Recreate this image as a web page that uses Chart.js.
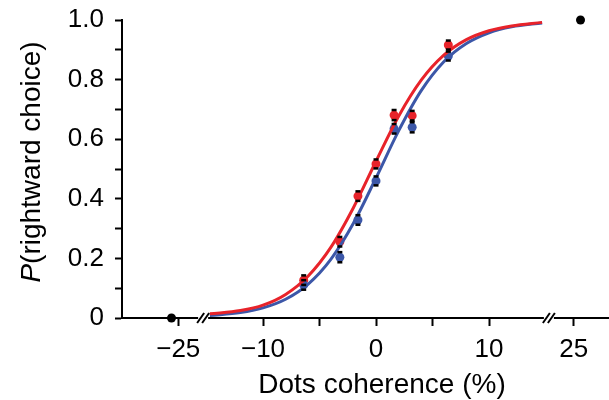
<!DOCTYPE html>
<html>
<head>
<meta charset="utf-8">
<script src="https://cdn.jsdelivr.net/npm/chart.js@4/dist/chart.umd.min.js"></script>
<style>
  html, body { margin: 0; padding: 0; background: #fff; overflow: hidden; }
  #wrap { width: 609px; height: 400px; }
</style>
</head>
<body>
<div id="wrap"><canvas id="psychometric"></canvas></div>
<script>
// 各コヒーレンスでの右選択率（赤・青の2条件）
const coherence = [-6.4, -3.2, -1.6, 0, 1.6, 3.2, 6.4];
const redChoice = [0.127, 0.256, 0.409, 0.517, 0.681, 0.679, 0.916];
const blueChoice = [0.111, 0.204, 0.329, 0.460, 0.635, 0.640, 0.879];
const redErr = [0.016, 0.016, 0.016, 0.015, 0.017, 0.016, 0.015];
const blueErr = [0.016, 0.017, 0.016, 0.015, 0.016, 0.017, 0.015];

// フィット曲線
const fitCoherence = [-14.7, -12, -10, -8, -6, -4, -2, 0, 2, 4, 6, 8, 10, 12, 14.7];
const redFit = [0.014, 0.025, 0.043, 0.079, 0.141, 0.237, 0.370, 0.526, 0.677, 0.798, 0.882, 0.934, 0.964, 0.980, 0.992];
const blueFit = [0.008, 0.018, 0.034, 0.063, 0.114, 0.197, 0.318, 0.470, 0.628, 0.763, 0.860, 0.921, 0.957, 0.977, 0.990];

// ±25% の極端な条件（黒点）
const extremeCoherence = [-25, 25];
const extremeChoice = [0, 1];

// x軸の目盛り（軸が途中で切れているので±25は内側に詰めて表示）
const xTickCoherence = [-25, -10, -5, 0, 5, 10, 25];
const xTickLabels = ['\u221225', '\u221210', '', '0', '', '10', '25'];
const yTickLabels = ['0', '', '0.2', '', '0.4', '', '0.6', '', '0.8', '', '1.0'];

const outerTickPos = 17.5;   // ±25 の目盛り位置
const outerDotPos = 18.1;    // ±25 の黒点の位置
const breakPos = 15.3;       // 軸の切れ目
const tickPos = c => Math.abs(c) > 15 ? Math.sign(c) * outerTickPos : c;
const dotPos = c => Math.abs(c) > 15 ? Math.sign(c) * outerDotPos : c;

const RED = '#e8232a';
const BLUE = '#3c57a8';
const FONT = '"Liberation Sans", Arial, Helvetica, sans-serif';

Chart.defaults.font.family = FONT;
Chart.defaults.color = '#000';

const toPoints = (xs, ys, f) => xs.map((x, i) => ({ x: f ? f(x) : x, y: ys[i] }));

// エラーバー（黒いキャップ）
const errorBars = {
    id: 'errorBars',
    afterDatasetsDraw(chart) {
        const { ctx, scales: { x, y } } = chart;
        ctx.save();
        ctx.strokeStyle = '#000';
        ctx.lineWidth = 2.5;
        chart.data.datasets.forEach(ds => {
            if (!ds.errors) return;
            ds.data.forEach((p, i) => {
                const px = x.getPixelForValue(p.x);
                [p.y + ds.errors[i], p.y - ds.errors[i]].forEach(v => {
                    const py = y.getPixelForValue(v);
                    ctx.beginPath();
                    ctx.moveTo(px - 2.5, py);
                    ctx.lineTo(px + 2.5, py);
                    ctx.stroke();
                });
            });
        });
        ctx.restore();
    }
};

// 軸の切れ目 "//" と軸タイトル
const axisDecor = {
    id: 'axisDecor',
    afterDraw(chart) {
        const { ctx, chartArea, scales: { x } } = chart;
        const base = chartArea.bottom;
        ctx.save();
        [-breakPos, breakPos].forEach(v => {
            const px = x.getPixelForValue(v);
            ctx.fillStyle = '#fff';
            ctx.fillRect(px - 5, base - 2, 10, 4);
            ctx.strokeStyle = '#000';
            ctx.lineWidth = 2;
            [-2.5, 2.5].forEach(off => {
                ctx.beginPath();
                ctx.moveTo(px + off - 3.5, base + 5);
                ctx.lineTo(px + off + 3.5, base - 5);
                ctx.stroke();
            });
        });

        // x軸タイトル
        ctx.fillStyle = '#000';
        ctx.textAlign = 'center';
        ctx.textBaseline = 'middle';
        ctx.font = '28px ' + FONT;
        ctx.fillText('Dots coherence (%)', 382, 385);

        // y軸タイトル（P だけ斜体）
        ctx.translate(32, 162);
        ctx.rotate(-Math.PI / 2);
        ctx.textAlign = 'left';
        const italic = 'italic 28px ' + FONT;
        const normal = '28px ' + FONT;
        ctx.font = italic;
        const wP = ctx.measureText('P').width;
        ctx.font = normal;
        const rest = '(rightward choice)';
        const wRest = ctx.measureText(rest).width;
        const start = -(wP + wRest) / 2;
        ctx.font = italic;
        ctx.fillText('P', start, 0);
        ctx.font = normal;
        ctx.fillText(rest, start + wP, 0);
        ctx.restore();
    }
};

const config = {
    type: 'scatter',
    data: {
        datasets: [
            {
                type: 'line',
                data: toPoints(fitCoherence, redFit),
                borderColor: RED,
                borderWidth: 3,
                pointRadius: 0,
                cubicInterpolationMode: 'monotone',
                clip: false
            },
            {
                type: 'line',
                data: toPoints(fitCoherence, blueFit),
                borderColor: BLUE,
                borderWidth: 3,
                pointRadius: 0,
                cubicInterpolationMode: 'monotone',
                clip: false
            },
            {
                data: toPoints(coherence, blueChoice),
                errors: blueErr,
                backgroundColor: BLUE,
                borderWidth: 0,
                pointRadius: 4.5,
                clip: false
            },
            {
                data: toPoints(coherence, redChoice),
                errors: redErr,
                backgroundColor: RED,
                borderWidth: 0,
                pointRadius: 4.5,
                clip: false
            },
            {
                data: toPoints(extremeCoherence, extremeChoice, dotPos),
                backgroundColor: '#000',
                borderWidth: 0,
                pointRadius: 4.5,
                clip: false
            }
        ]
    },
    options: {
        responsive: true,
        maintainAspectRatio: false,
        animation: false,
        layout: { autoPadding: false, padding: { top: 20, right: 0, bottom: 0, left: 0 } },
        plugins: {
            legend: { display: false },
            tooltip: { enabled: false }
        },
        scales: {
            x: {
                type: 'linear',
                min: -22.48,
                max: 20.62,
                afterFit: scale => {
                    scale.height = 82;
                    scale.paddingLeft = 0;
                    scale.paddingRight = 0;
                },
                afterBuildTicks: scale => {
                    scale.ticks = xTickCoherence.map(c => ({ value: tickPos(c) }));
                },
                ticks: {
                    autoSkip: false,
                    maxRotation: 0,
                    padding: 8,
                    font: { size: 26 },
                    callback: (value, index) => xTickLabels[index]
                },
                grid: {
                    drawOnChartArea: false,
                    tickLength: 8,
                    tickWidth: 2,
                    color: '#000'
                },
                border: { display: true, color: '#000', width: 2 }
            },
            y: {
                min: 0,
                max: 1,
                afterFit: scale => {
                    scale.width = 122;
                    scale.paddingTop = 0;
                    scale.paddingBottom = 0;
                },
                ticks: {
                    stepSize: 0.1,
                    autoSkip: false,
                    padding: 11,
                    font: { size: 26 },
                    callback: (value, index) => yTickLabels[index]
                },
                grid: {
                    drawOnChartArea: false,
                    tickLength: 7,
                    tickWidth: 2,
                    color: '#000'
                },
                border: { display: true, color: '#000', width: 2 }
            }
        }
    },
    plugins: [errorBars, axisDecor]
};

const ctx = document.querySelector('#psychometric');
const psychometricChart = new Chart(ctx, config);
</script>
</body>
</html>
